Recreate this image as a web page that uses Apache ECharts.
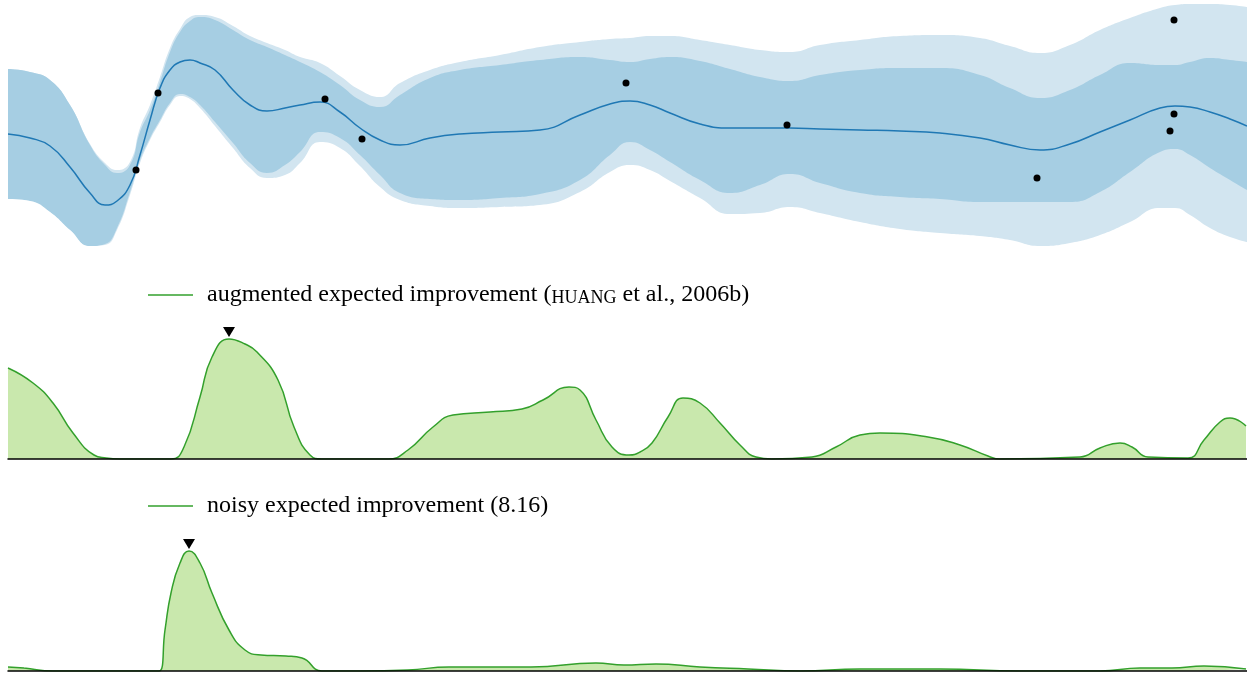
<!DOCTYPE html>
<html><head><meta charset="utf-8">
<script src="https://cdn.jsdelivr.net/npm/echarts@6/dist/echarts.min.js"></script>
<style>html,body{margin:0;padding:0;background:#fff}#c{width:1247px;height:675px}</style>
</head><body><div id="c"></div>
<script>
// ---- top panel: GP posterior ----
const gpX = [8,30,50,70,90,105,117,130,140,150,160,170,180,190,200,215,233,250,267,285,300,320,340,360,380,400,430,460,500,540,580,610,630,650,670,700,730,760,790,820,860,900,940,980,1010,1040,1070,1100,1130,1160,1175,1190,1210,1230,1247];
const gpMean = [126,122,114,93,67,55,59,75,105,140,172,190,198,200,197,190,170,155,149,152,155,158,148,132,120,115,122,126,128,130,145,156,159,155,147,136,132,132,132,131,130,129,127,122,115,110,116,128,140,152,154,153,148,141,134];
const darkUpper = [191,188,180,155,115,95,87,95,128,150,178,208,228,239,243,240,230,220,213,205,198,188,175,160,153,165,182,190,195,200,203,200,198,201,203,199,191,183,179,185,190,192,192,185,172,162,170,185,197,195,195,198,202,200,198];
const darkLower = [61,59,48,30,14,16,32,68,100,122,140,157,166,163,155,138,117,97,87,95,108,128,122,105,85,67,61,60,62,66,80,105,118,110,98,80,67,75,86,77,67,63,61,58,58,58,58,68,88,108,111,105,92,80,70];
const lightUpper = [191,188,180,155,116,97,90,98,132,155,183,212,231,243,245,243,234,224,217,210,203,197,184,170,163,177,190,198,205,213,218,221,222,224,224,220,215,210,208,215,220,224,225,222,214,207,215,230,242,252,255,256,256,255,253];
const lightLower = [61,59,48,30,14,15,30,65,97,120,138,155,164,161,152,134,112,92,82,85,97,118,112,94,73,60,54,52,53,55,68,88,95,90,79,62,46,47,53,47,38,31,27,24,20,14,17,25,38,52,52,45,32,23,18];
const obsX = [136,158,325,362,626,787,1037,1174,1174,1170];
const obsY = [90,167,161,121,177,135,82,240,146,129];

// ---- middle panel: augmented expected improvement ----
const aeiName = 'augmented expected improvement (HUANG et al., 2006b)';
const aeiX = [8,33,53,73,94,106,120,171,184,200,212,229,245,257,278,294,310,322,388,408,433,453,490,522,543,569,580,596,612,629,640,652,668,683,700,720,740,756,772,812,836,860,880,928,960,988,1000,1080,1100,1120,1132,1148,1188,1204,1220,1230,1246];
const aeiY = [91,76,56,26,4,1,0,0,12,62,102,120,115,107,79,32,4,0,0,9,32,44,47,50,59,72,69,39,12,4,7,16,42,61,56,36,14,2,0,2,12,24,26,22,14,3,0,2,11,16,12,2,1,19,37,41,33];
const aeiMaxX = [229];
const aeiMaxY = [127];

// ---- bottom panel: noisy expected improvement ----
const neiName = 'noisy expected improvement (8.16)';
const neiX = [8,24,53,100,159,165,171,180,189,200,212,229,245,261,286,302,322,360,408,449,531,596,624,656,700,748,800,860,940,1020,1100,1140,1172,1204,1246];
const neiY = [4,3,0,0,0,41,78,108,120,108,78,41,21,16,15,13,0,0,1,4,4,8,6,7,4,2,0,2,2,0,0,3,3,5,2];
const neiMaxX = [189];
const neiMaxY = [127];

const pair = (xs, ys) => xs.map((x, i) => [x, ys[i]]);

const GREEN = '#33a02c', GFILL = '#c9e8ad';
const LIGHT = '#d2e5f0', DARK = '#a6cee3', BLUE = '#1f78b4';
const SERIF = '"Liberation Serif", "DejaVu Serif", serif';
const SM = 0.5;

// filled curve down to the bottom of the top panel; layered so the bands appear
function fillCurve(name, ys, color) {
  return {type: 'line', name, data: pair(gpX, ys), smooth: SM, symbol: 'none', silent: true,
    lineStyle: {width: 0, opacity: 0}, areaStyle: {color, opacity: 1}};
}

const chart = echarts.init(document.getElementById('c'));
const legendCommon = {
  left: 148, padding: 0, orient: 'horizontal', selectedMode: false,
  itemWidth: 45, itemHeight: 1.5, icon: 'rect',
  textStyle: {fontFamily: SERIF, fontSize: 24, color: '#000', padding: [0, 0, 0, 9],
    rich: {
      t: {fontFamily: SERIF, fontSize: 24, color: '#000', verticalAlign: 'bottom'},
      sc: {fontFamily: SERIF, fontSize: 18, color: '#000', verticalAlign: 'bottom'}
    }}
};
chart.setOption({
  animation: false,
  grid: [
    {left: 8, right: 0, top: 0, height: 260},
    {left: 8, right: 0, top: 329, height: 130},
    {left: 8, right: 0, top: 541, height: 130}
  ],
  xAxis: [0, 1, 2].map(i => ({
    type: 'value', gridIndex: i, min: 8, max: 1247, show: i > 0, z: 10,
    axisLine: {show: i > 0, onZero: true, lineStyle: {color: '#000', width: 1.5}},
    axisTick: {show: false}, axisLabel: {show: false}, splitLine: {show: false}
  })),
  yAxis: [[0, 260], [0, 130], [0, 130]].map((r, i) => ({
    type: 'value', gridIndex: i, min: r[0], max: r[1], show: false, splitLine: {show: false}
  })),
  legend: [
    Object.assign({}, legendCommon, {top: 283, data: [aeiName],
      formatter: () => '{t|augmented expected improvement (}{sc|HUANG}{t| et al., 2006b)}'}),
    Object.assign({}, legendCommon, {top: 494, data: [neiName],
      formatter: () => '{t|noisy expected improvement (8.16)}'})
  ],
  series: [
    fillCurve('lightUpper', lightUpper, LIGHT),
    fillCurve('darkUpper', darkUpper, DARK),
    fillCurve('darkLower', darkLower, LIGHT),
    fillCurve('lightLower', lightLower, '#ffffff'),
    {type: 'line', name: 'mean', data: pair(gpX, gpMean), smooth: SM, symbol: 'none',
      lineStyle: {color: BLUE, width: 1.5}},
    {type: 'scatter', name: 'obs', data: pair(obsX, obsY), symbolSize: 7,
      itemStyle: {color: '#000', opacity: 1}, z: 5},

    {type: 'line', name: aeiName, xAxisIndex: 1, yAxisIndex: 1, data: pair(aeiX, aeiY), smooth: SM,
      symbol: 'none', color: GREEN, itemStyle: {color: GREEN},
      lineStyle: {color: GREEN, width: 1.5}, areaStyle: {color: GFILL, opacity: 1}},
    {type: 'scatter', name: 'aeiMax', xAxisIndex: 1, yAxisIndex: 1, data: pair(aeiMaxX, aeiMaxY),
      symbol: 'triangle', symbolRotate: 180, symbolSize: [12, 10], itemStyle: {color: '#000', opacity: 1}},

    {type: 'line', name: neiName, xAxisIndex: 2, yAxisIndex: 2, data: pair(neiX, neiY), smooth: SM,
      symbol: 'none', color: GREEN, itemStyle: {color: GREEN},
      lineStyle: {color: GREEN, width: 1.5}, areaStyle: {color: GFILL, opacity: 1}},
    {type: 'scatter', name: 'neiMax', xAxisIndex: 2, yAxisIndex: 2, data: pair(neiMaxX, neiMaxY),
      symbol: 'triangle', symbolRotate: 180, symbolSize: [12, 10], itemStyle: {color: '#000', opacity: 1}}
  ]
});
</script>
</body></html>
